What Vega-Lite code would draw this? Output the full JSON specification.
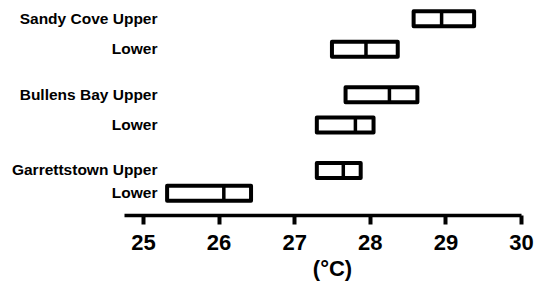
{
  "$schema": "https://vega.github.io/schema/vega-lite/v6.json",
  "autosize": {"type": "none"},
  "width": 397,
  "height": 182,
  "padding": {"left": 124, "top": 15, "right": 18, "bottom": 86},
  "background": "white",
  "config": {"view": {"stroke": null}, "font": "Liberation Sans"},
  "data": {"values": [
    {"label": "Sandy Cove Upper", "lo": 28.58, "hi": 29.38, "med": 28.95},
    {"label": "Sandy Cove Lower", "lo": 27.50, "hi": 28.37, "med": 27.95},
    {"label": "Bullens Bay Upper", "lo": 27.68, "hi": 28.63, "med": 28.26},
    {"label": "Bullens Bay Lower", "lo": 27.30, "hi": 28.05, "med": 27.81},
    {"label": "Garrettstown Upper", "lo": 27.30, "hi": 27.88, "med": 27.65},
    {"label": "Garrettstown Lower", "lo": 25.32, "hi": 26.43, "med": 26.07}
  ]},
  "encoding": {
    "y": {
      "field": "label", "type": "nominal",
      "scale": {"type": "band", "paddingInner": 0, "paddingOuter": 0,
        "domain": ["Sandy Cove Upper", "gap1", "gap2", "gap3", "Sandy Cove Lower", "gap5", "gap6", "gap7", "gap8", "gap9", "Bullens Bay Upper", "gap11", "gap12", "gap13", "Bullens Bay Lower", "gap15", "gap16", "gap17", "gap18", "gap19", "Garrettstown Upper", "gap21", "gap22", "Garrettstown Lower"]},
      "axis": {
        "title": null, "domain": false, "ticks": false, "tickSize": 0, "offset": -33, "labelPadding": 0,
        "labelAlign": "right", "labelBaseline": "middle", "labelFont": "Liberation Sans", "labelFontWeight": "bold", "labelFontSize": 15.5, "labelColor": "black",
        "labelExpr": "indexof(datum.value,'gap')==0 ? '' : (indexof(datum.value,'Lower')>0 ? 'Lower' : datum.value)"
      }
    }
  },
  "layer": [
    {
      "mark": {"type": "bar", "height": 15, "fill": "white", "stroke": "black", "strokeWidth": 4, "strokeJoin": "round"},
      "encoding": {
        "x": {"field": "lo", "type": "quantitative",
          "scale": {"domain": [24.75, 30], "nice": false, "zero": false},
          "axis": {
            "title": "(°C)", "values": [25, 26, 27, 28, 29, 30], "format": "d", "grid": false, "offset": 18,
            "domainColor": "black", "domainWidth": 3.5, "tickColor": "black", "tickWidth": 4, "tickSize": 9,
            "labelFont": "Liberation Sans", "labelFontWeight": "bold", "labelFontSize": 22, "labelColor": "black",
            "labelBaseline": "alphabetic", "labelPadding": 25, "labelFlush": false, "labelOverlap": false,
            "titleFont": "Liberation Sans", "titleFontWeight": "bold", "titleFontSize": 22, "titleColor": "black",
            "titleBaseline": "alphabetic", "titleY": 60, "titleX": 208, "titleAlign": "center"
          }
        },
        "x2": {"field": "hi"}
      }
    },
    {
      "mark": {"type": "tick", "orient": "vertical", "size": 15, "thickness": 3.5, "color": "black", "opacity": 1},
      "encoding": {
        "x": {"field": "med", "type": "quantitative"}
      }
    }
  ]
}
